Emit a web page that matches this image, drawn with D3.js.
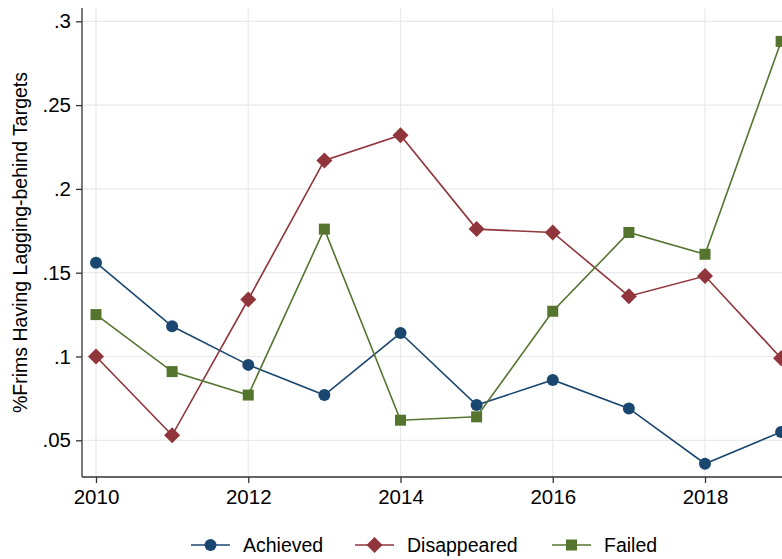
<!DOCTYPE html>
<html lang="en">
<head>
<meta charset="utf-8">
<title>Lagging-behind targets</title>
<script src="https://d3js.org/d3.v7.min.js"></script>
<style>
  body { margin: 0; background: #fff; }
  svg text { font-family: "Liberation Sans", Arial, sans-serif; fill: #000; }
</style>
</head>
<body>
<div id="chart"></div>
<script>
// data
var years = [2010, 2011, 2012, 2013, 2014, 2015, 2016, 2017, 2018, 2019];
var achieved = [0.156, 0.118, 0.095, 0.077, 0.114, 0.071, 0.086, 0.069, 0.036, 0.055];
var disappeared = [0.100, 0.053, 0.134, 0.217, 0.232, 0.176, 0.174, 0.136, 0.148, 0.099];
var failed = [0.125, 0.091, 0.077, 0.176, 0.062, 0.064, 0.127, 0.174, 0.161, 0.288];
var xTicks = [2010, 2012, 2014, 2016, 2018];
var yTicks = [0.05, 0.1, 0.15, 0.2, 0.25, 0.3];
var yTickLabels = [".05", ".1", ".15", ".2", ".25", ".3"];

var W = 782, H = 559;
var pLeft = 82, pRight = 782, pTop = 8, pBottom = 477;

var svg = d3.select("#chart").append("svg")
    .attr("width", W).attr("height", H);

// 2010 sits a bit inside the axis, 2019 sits on the window edge
var x = d3.scaleLinear().domain([2010, 2018]).range([96, 705]);
var y = d3.scaleLinear().domain([0.05, 0.3]).range([440.3, 21.3]);

var g = svg.append("g");

// grid
g.selectAll(".hgrid").data(yTicks).enter().append("line")
    .attr("x1", pLeft).attr("x2", pRight)
    .attr("y1", function(d) { return y(d); }).attr("y2", function(d) { return y(d); })
    .attr("stroke", "#eaeaea").attr("stroke-width", 1.2);
g.selectAll(".vgrid").data(xTicks).enter().append("line")
    .attr("y1", pTop).attr("y2", pBottom)
    .attr("x1", function(d) { return x(d); }).attr("x2", function(d) { return x(d); })
    .attr("stroke", "#eaeaea").attr("stroke-width", 1.2);

// axes
var yAxis = d3.axisLeft(y).tickValues(yTicks)
    .tickFormat(function(d, i) { return yTickLabels[i]; })
    .tickSize(6).tickPadding(5);
var xAxis = d3.axisBottom(x).tickValues(xTicks)
    .tickFormat(d3.format("d")).tickSize(6).tickPadding(6);

var ya = svg.append("g").attr("transform", "translate(" + pLeft + ",0)").call(yAxis);
ya.select(".domain").attr("d", "M0," + pTop + "V" + pBottom);
var xa = svg.append("g").attr("transform", "translate(0," + pBottom + ")").call(xAxis);
xa.select(".domain").attr("d", "M" + pLeft + ",0H" + pRight);
svg.selectAll(".domain").attr("stroke", "#333").attr("stroke-width", 1.3);
svg.selectAll(".tick line").attr("stroke", "#333").attr("stroke-width", 1.3);
svg.selectAll(".tick text").style("font-size", "20.5px").attr("fill", "#000");

// y title
svg.append("text")
    .attr("transform", "translate(27," + ((pTop + pBottom) / 2) + ") rotate(-90)")
    .attr("text-anchor", "middle")
    .style("font-size", "19.5px")
    .text("%Frims Having Lagging-behind Targets");

var series = [
  { name: "Achieved", values: achieved, color: "#1a476f", shape: "circle" },
  { name: "Disappeared", values: disappeared, color: "#90353b", shape: "diamond" },
  { name: "Failed", values: failed, color: "#55752f", shape: "square" }
];

function marker(sel, shape, color) {
  if (shape === "circle") {
    sel.append("circle").attr("r", 6).attr("fill", color);
  } else if (shape === "square") {
    sel.append("rect").attr("x", -5.5).attr("y", -5.5).attr("width", 11).attr("height", 11).attr("fill", color);
  } else {
    sel.append("path").attr("d", "M0,-8L8,0L0,8L-8,0Z").attr("fill", color);
  }
}

var line = d3.line()
    .x(function(d, i) { return x(years[i]); })
    .y(function(d) { return y(d); });

series.forEach(function(s) {
  svg.append("path")
      .attr("d", line(s.values))
      .attr("fill", "none")
      .attr("stroke", s.color)
      .attr("stroke-width", 1.6);
  svg.selectAll(null).data(s.values).enter().append("g")
      .attr("transform", function(d, i) { return "translate(" + x(years[i]) + "," + y(d) + ")"; })
      .each(function() { marker(d3.select(this), s.shape, s.color); });
});

// legend
var legendX = [191, 355, 552];
var legend = svg.selectAll(".legend").data(series).enter().append("g")
    .attr("transform", function(d, i) { return "translate(" + legendX[i] + ",545)"; });
legend.append("line").attr("x1", 0).attr("x2", 39)
    .attr("stroke", function(d) { return d.color; }).attr("stroke-width", 1.6);
legend.each(function(d) {
  var m = d3.select(this).append("g").attr("transform", "translate(19.5,0)");
  marker(m, d.shape, d.color);
});
legend.append("text").attr("x", 52).attr("dy", "0.35em")
    .style("font-size", "19.5px")
    .text(function(d) { return d.name; });
</script>
</body>
</html>
